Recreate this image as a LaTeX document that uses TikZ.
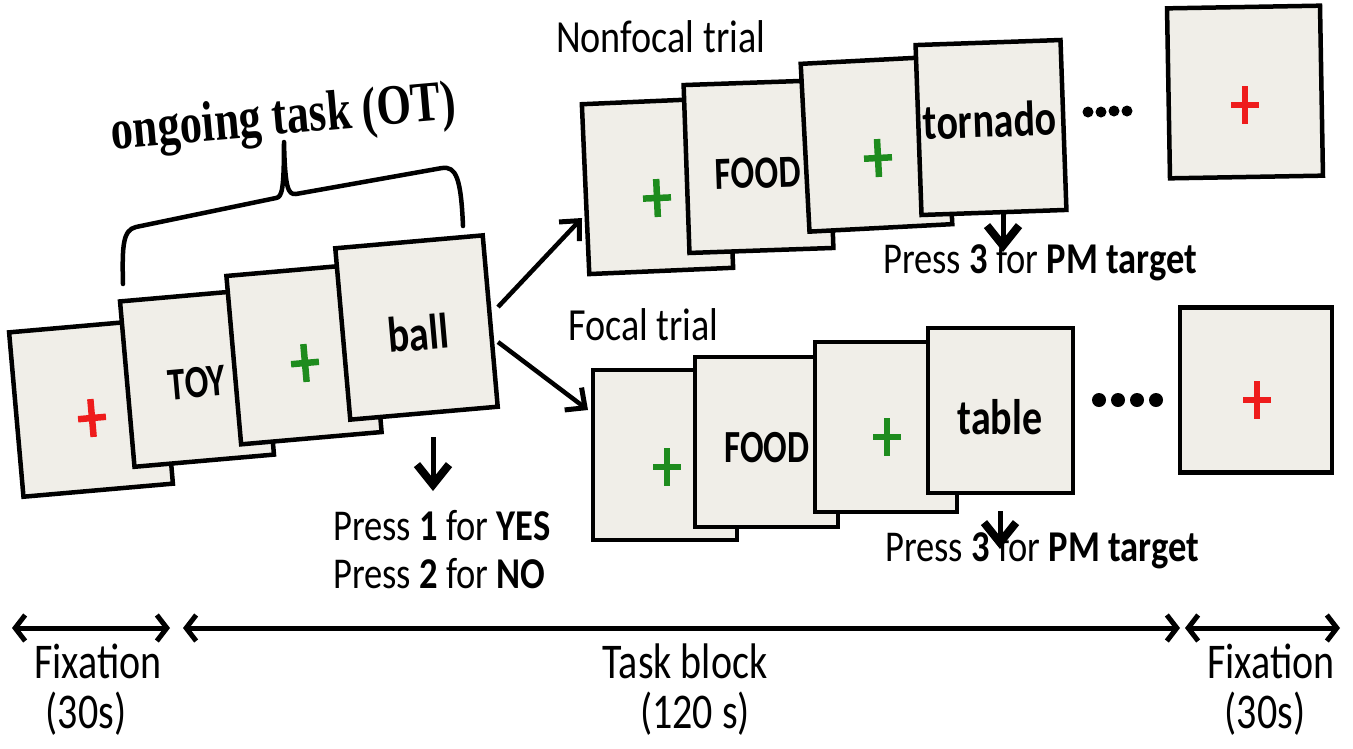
\documentclass[tikz,border=0pt]{standalone}
\usepackage{fontspec}
\setmainfont{Carlito}
\newfontfamily\lblfont{Carlito}[FakeStretch=0.83]
\newfontfamily\btmfont{Carlito}[FakeStretch=0.8]
\newfontfamily\wordfont{Carlito}[FakeStretch=0.8]
\newfontfamily\capfont{Carlito}[FakeStretch=0.76]
\newfontfamily\ttlfont{Liberation Serif}[FakeStretch=0.78]
\usetikzlibrary{arrows.meta,calc}
\definecolor{cardfill}{HTML}{F0EEE8}
\definecolor{redplus}{HTML}{EE1C1C}
\definecolor{greenplus}{HTML}{1E8C1E}
\tikzset{
  card/.style={draw=black, line width=4.5pt, fill=cardfill, inner sep=0pt},
  word/.style={font=\wordfont\bfseries\fontsize{50}{54}\selectfont, inner sep=0pt},
  capword/.style={font=\capfont\bfseries\fontsize{46}{50}\selectfont, inner sep=0pt},
  lbl/.style={font=\lblfont\fontsize{44}{48}\selectfont, inner sep=0pt},
  trial/.style={font=\lblfont\fontsize{46}{50}\selectfont, inner sep=0pt},
  btm/.style={font=\btmfont\fontsize{50}{54}\selectfont, inner sep=0pt},
  ttl/.style={font=\ttlfont\bfseries\fontsize{57}{60}\selectfont, inner sep=0pt},
  brace/.style={draw=black, line width=4.5pt, line cap=round, line join=round},
  branch/.style={line width=4.5pt, -{Straight Barb[length=15pt,width=28pt,line width=5pt]}},
  downarr/.style={line width=5pt, -{Straight Barb[length=20pt,width=32pt,line width=8pt]}},
  span/.style={line width=5pt, {Straight Barb[length=10pt,width=26pt,line width=5pt]}-{Straight Barb[length=10pt,width=26pt,line width=5pt]}},
  pics/plusmark/.style={code={\draw[line width=6.5pt, draw=#1] (-14,0) -- (14,0) (0,-19) -- (0,19);}}
}
\begin{document}
\begin{tikzpicture}[x=1pt,y=-1pt]
\useasboundingbox (0,0) rectangle (1353,748);
\fill[white] (0,0) rectangle (1353,748);

% title and brace
\node[ttl, rotate=5, anchor=base] (ot) at (285,134) {ongoing task (OT)};
\draw[brace] (123,284) .. controls (122,245) and (123,230) .. (136,227) -- (276,198) .. controls (282,197) and (284,190) .. (284,142) .. controls (285,188) and (288,195) .. (296,194) -- (442,168) .. controls (456,166) and (461,178) .. (463,226);

% left group
\node[card, minimum width=150pt, minimum height=165pt, rotate=5] (c1) at (91,408) {};
\pic[rotate=5] at (92,418) {plusmark=redplus};
\node[card, minimum width=140pt, minimum height=166pt, rotate=5] (c2) at (197,378) {};
\node[capword, rotate=5] (toy) at (197,383) {TOY};
\node[card, minimum width=141pt, minimum height=169pt, rotate=5] (c3) at (304,354) {};
\pic[rotate=5] at (305,363) {plusmark=greenplus};
\node[card, minimum width=148pt, minimum height=172pt, rotate=5] (c4) at (416.5,327.5) {};
\node[word, rotate=5] (ball) at (418,333) {ball};

% nonfocal group
\node[trial, anchor=base west] (nft) at (556,52) {Nonfocal trial};
\node[card, minimum width=144pt, minimum height=170pt, rotate=2.5] (nA) at (657.5,186) {};
\pic[rotate=2.5] at (657,198) {plusmark=greenplus};
\node[card, minimum width=144pt, minimum height=168pt, rotate=2] (nB) at (758.5,166.5) {};
\node[capword, rotate=2] (nfood) at (758,173) {FOOD};
\node[card, minimum width=143pt, minimum height=168pt, rotate=3] (nC) at (876.5,144) {};
\pic[rotate=3] at (878,158) {plusmark=greenplus};
\node[card, minimum width=145pt, minimum height=170pt, rotate=2] (nD) at (991,127.5) {};
\node[word, rotate=2] (tornado) at (990,120) {tornado};
\foreach \px/\py in {1088/112,1101/112,1114/111,1127/111}
  \fill (\px,\py) circle (5.5pt);
\node[card, minimum width=153pt, minimum height=170pt, rotate=1] (rT) at (1245,92) {};
\pic at (1245,105) {plusmark=redplus};

% focal group
\node[trial, anchor=base west] (ft) at (568,340) {Focal trial};
\node[card, minimum width=144pt, minimum height=170pt] (fA) at (665,455) {};
\pic at (667,467) {plusmark=greenplus};
\node[card, minimum width=143pt, minimum height=170pt] (fB) at (766.5,442) {};
\node[capword] (ffood) at (767,448) {FOOD};
\node[card, minimum width=142pt, minimum height=170pt] (fC) at (886,427) {};
\pic at (887,437) {plusmark=greenplus};
\node[card, minimum width=145pt, minimum height=165pt] (fD) at (1000.5,410.5) {};
\node[word] (table) at (1000,417) {table};
\foreach \px/\py in {1099/400,1118/400,1137/400,1156/400}
  \fill (\px,\py) circle (7pt);
\node[card, minimum width=152pt, minimum height=165pt] (rB) at (1256,390) {};
\pic at (1257,400) {plusmark=redplus};

% branch arrows
\coordinate (bu0) at (498,307);
\coordinate (bu1) at (582,218);
\coordinate (bl0) at (498,342);
\coordinate (bl1) at (588,410);
\draw[branch] (bu0) -- (bu1);
\draw[branch] (bl0) -- (bl1);

% response arrows and labels
\coordinate (d1a) at (433,437);
\coordinate (d1b) at (433,491);
\draw[downarr] (d1a) -- (d1b);
\node[lbl, anchor=base west] (p1) at (333,540) {Press \textbf{1} for \textbf{YES}};
\node[lbl, anchor=base west] (p2) at (333,588) {Press \textbf{2} for \textbf{NO}};

\coordinate (d2a) at (1003,212);
\coordinate (d2b) at (1003,252);
\draw[downarr] (d2a) -- (d2b);
\node[lbl, anchor=base west] (p3) at (883,273) {Press \textbf{3} for \textbf{PM target}};

\coordinate (d3a) at (1000,511);
\coordinate (d3b) at (1000,549);
\draw[downarr] (d3a) -- (d3b);
\node[lbl, anchor=base west] (p4) at (885,561) {Press \textbf{3} for \textbf{PM target}};

% timeline
\coordinate (s1a) at (12,628);
\coordinate (s1b) at (170,628);
\coordinate (s2a) at (183,628);
\coordinate (s2b) at (1180,628);
\coordinate (s3a) at (1185,628);
\coordinate (s3b) at (1340,628);
\draw[span] (s1a) -- (s1b);
\draw[span] (s2a) -- (s2b);
\draw[span] (s3a) -- (s3b);
\node[btm, anchor=base] (fx1) at (98,678) {Fixation};
\node[btm, anchor=base] (fx1s) at (86,728) {(30s)};
\node[btm, anchor=base] (tb) at (685,678) {Task block};
\node[btm, anchor=base] (tbs) at (695,728) {(120 s)};
\node[btm, anchor=base] (fx2) at (1271,678) {Fixation};
\node[btm, anchor=base] (fx2s) at (1265,728) {(30s)};
\end{tikzpicture}
\end{document}
